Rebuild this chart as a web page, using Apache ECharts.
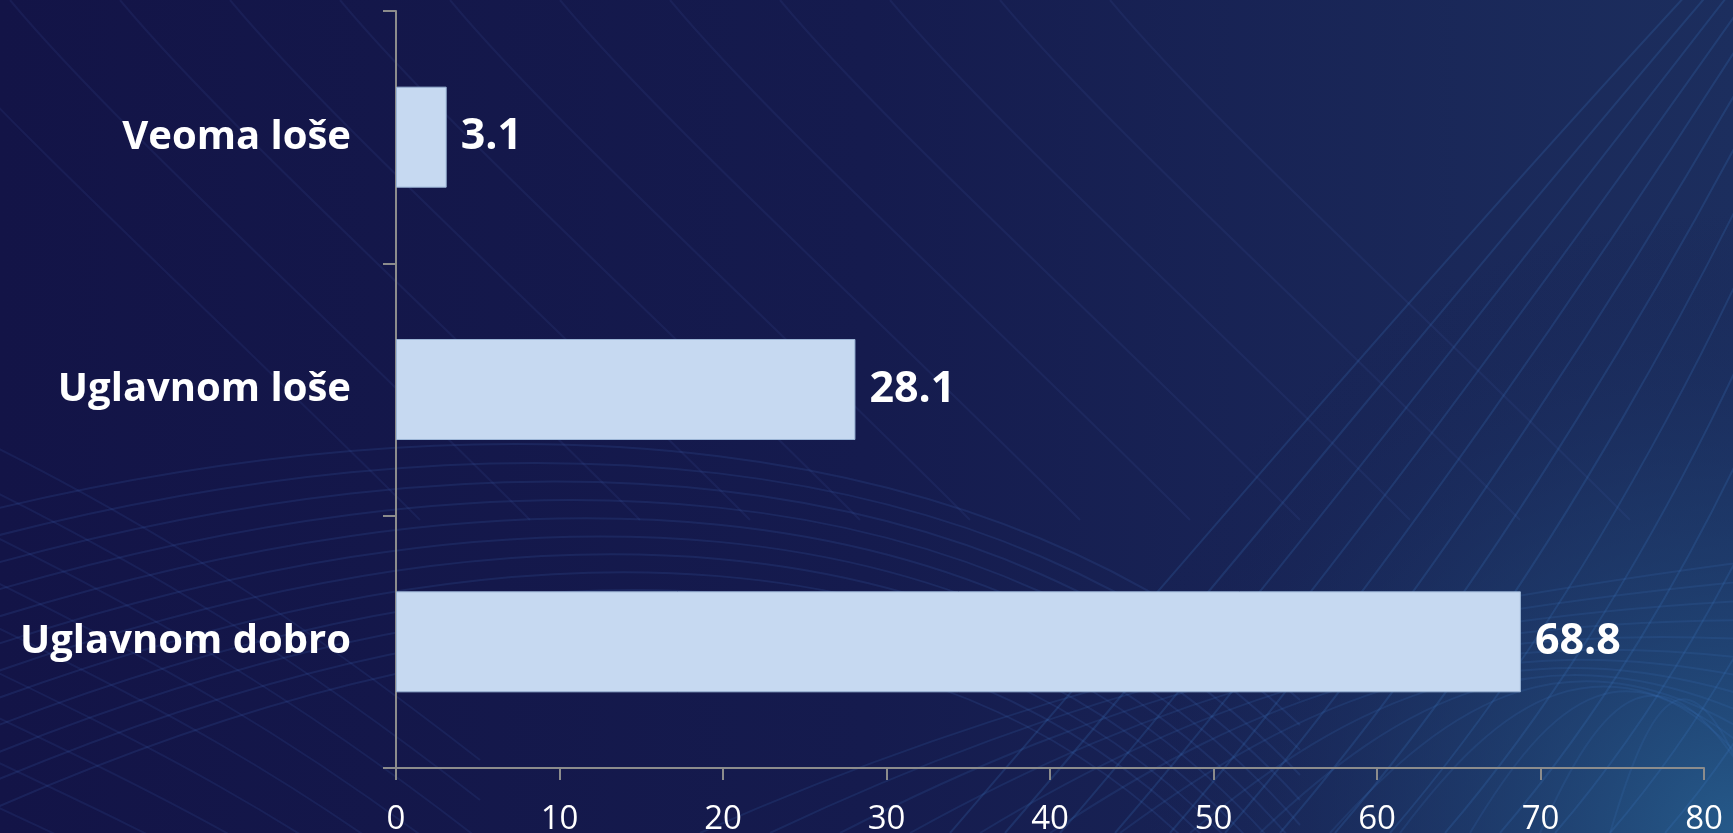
<!DOCTYPE html>
<html>
<head>
<meta charset="utf-8">
<script src="https://cdn.jsdelivr.net/npm/echarts@6/dist/echarts.min.js"></script>
<style>
html,body{margin:0;padding:0;width:1733px;height:833px;overflow:hidden;background:#141548;}
#chart{width:1733px;height:833px;}
</style>
</head>
<body>
<div id="chart"></div>
<script>
// Data
const categories = ["Veoma loše", "Uglavnom loše", "Uglavnom dobro"];
const values = [3.1, 28.1, 68.8];
const xTicks = [0, 10, 20, 30, 40, 50, 60, 70, 80];

const W = 1733, H = 833;
const chart = echarts.init(document.getElementById('chart'), null, {renderer: 'canvas'});

// decorative background curves
const deco = [];
deco.push({
  type: 'rect', z: -10, silent: true,
  shape: {x: 0, y: 0, width: W, height: H},
  style: {fill: new echarts.graphic.RadialGradient(1, 1, 0.75, [
    {offset: 0, color: 'rgba(38,92,140,0.95)'},
    {offset: 0.55, color: 'rgba(30,62,110,0.45)'},
    {offset: 1, color: 'rgba(20,30,80,0)'}
  ])}
});
// sweeping arcs from the left (bottom part)
for (let i = 0; i < 12; i++) {
  deco.push({
    type: 'bezierCurve', z: -9, silent: true,
    shape: {x1: -50, y1: 520 + i * 28, cpx1: 500, cpy1: 380 + i * 18, cpx2: 1000, cpy2: 430 + i * 10, x2: 1300, y2: 700 + i * 25},
    style: {stroke: 'rgba(70,110,190,0.16)', lineWidth: 2, fill: null}
  });
}
// crossing lines in the lower left
for (let i = 0; i < 10; i++) {
  deco.push({
    type: 'bezierCurve', z: -9, silent: true,
    shape: {x1: -60, y1: 420 + i * 45, cpx1: 150, cpy1: 520 + i * 45, cpx2: 300, cpy2: 620 + i * 40, x2: 480, y2: 760 + i * 40},
    style: {stroke: 'rgba(70,110,190,0.13)', lineWidth: 2, fill: null}
  });
}
// diagonal lines from the upper left
for (let i = 0; i < 12; i++) {
  deco.push({
    type: 'bezierCurve', z: -9, silent: true,
    shape: {x1: -100 + i * 110, y1: 0, cpx1: 0 + i * 110, cpy1: 120, cpx2: 200 + i * 110, cpy2: 300, x2: 420 + i * 110, y2: 520},
    style: {stroke: 'rgba(70,100,180,0.12)', lineWidth: 2, fill: null}
  });
}
// rising lines on the right
for (let i = 0; i < 14; i++) {
  deco.push({
    type: 'bezierCurve', z: -9, silent: true,
    shape: {x1: 950 + i * 55, y1: 833, cpx1: 1150 + i * 55, cpy1: 600, cpx2: 1450 + i * 40, cpy2: 250, x2: 1700 + i * 20, y2: -20},
    style: {stroke: 'rgba(60,120,190,0.22)', lineWidth: 2, fill: null}
  });
}
// crossing lines in the lower right
for (let i = 0; i < 14; i++) {
  deco.push({
    type: 'bezierCurve', z: -9, silent: true,
    shape: {x1: 700 + i * 70, y1: 833, cpx1: 1000 + i * 50, cpy1: 700, cpx2: 1300 + i * 30, cpy2: 620, x2: 1760, y2: 560 + i * 20},
    style: {stroke: 'rgba(60,120,190,0.16)', lineWidth: 2, fill: null}
  });
}

const option = {
  backgroundColor: new echarts.graphic.LinearGradient(0, 0, 1, 0, [
    {offset: 0, color: '#131447'},
    {offset: 0.5, color: '#151b4e'},
    {offset: 1, color: '#1c2e5e'}
  ]),
  animation: false,
  textStyle: {fontFamily: 'Open Sans'},
  graphic: deco,
  grid: {left: 396, right: 29, top: 11, bottom: 65, containLabel: false, outerBoundsMode: 'none'},
  xAxis: {
    type: 'value', min: xTicks[0], max: xTicks[xTicks.length - 1], interval: 10,
    axisLine: {show: true, lineStyle: {color: '#8c8c8c', width: 2}},
    axisTick: {show: true, length: 12, lineStyle: {color: '#8c8c8c', width: 2}},
    splitLine: {show: false},
    axisLabel: {color: '#ffffff', fontSize: 33, fontFamily: 'Open Sans', margin: 35}
  },
  yAxis: {
    type: 'category', data: categories, inverse: true,
    axisLine: {show: true, lineStyle: {color: '#8c8c8c', width: 2}},
    axisTick: {show: true, length: 13, alignWithLabel: false, lineStyle: {color: '#8c8c8c', width: 2}},
    splitLine: {show: false},
    axisLabel: {color: '#ffffff', fontSize: 40, fontWeight: 'bold', fontFamily: 'Open Sans', margin: 45}
  },
  series: [{
    type: 'bar', data: values, barWidth: 101,
    itemStyle: {color: '#c6d9f1', borderColor: '#9bb5d6', borderWidth: 1},
    label: {
      show: true, position: 'right', distance: 14,
      color: '#ffffff', fontSize: 43, fontWeight: 'bold', fontFamily: 'Open Sans',
      formatter: p => p.value.toFixed(1)
    }
  }]
};
chart.setOption(option);
</script>
</body>
</html>
